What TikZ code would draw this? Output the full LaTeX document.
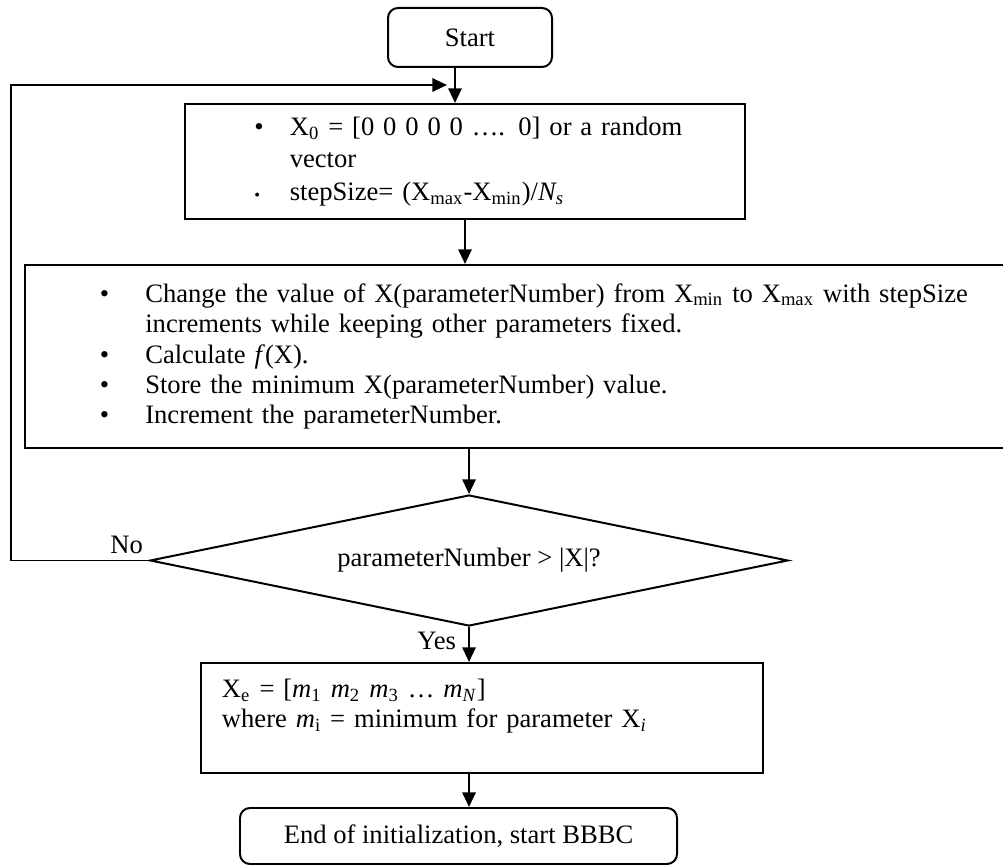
\documentclass[tikz,border=0pt]{standalone}
\usepackage{fontspec}
\setmainfont{Liberation Serif}
\usepackage{tikz}
\usetikzlibrary{shapes.geometric,arrows.meta,positioning}
\newcommand{\flowfont}{\fontsize{11.35pt}{13.9pt}\selectfont}
\newcommand{\bulbox}[1]{\makebox[#1][l]{\textbullet}}

\begin{document}
\begin{tikzpicture}[
    x=0.015cm, y=-0.015cm, line width=0.85pt,
    terminal/.style={rectangle, rounded corners=0.15cm, draw, align=center,
        font=\flowfont},
    procbox/.style={rectangle, draw, align=left, inner sep=0pt, font=\flowfont},
    decision/.style={diamond, draw, aspect=4.87, inner sep=0pt, font=\flowfont},
    lbl/.style={inner sep=0pt, font=\flowfont},
    arrow/.style={-{Triangle[length=0.22cm, width=0.2cm]}}
]
\useasboundingbox (0,0) rectangle (1003,866);

% Start and initial vector
\node[terminal, minimum width=2.46cm, minimum height=0.885cm] (start) at (470,37.5) {Start};
\node[procbox, minimum width=8.4cm, minimum height=1.725cm, text width=6.315cm,
    below=0.525cm of start, xshift=-0.075cm] (init)
    {\mbox{\bulbox{0.53cm}X\textsubscript{0} = [0 0 0 0 0 …. 0] or a random}\\
     \mbox{\hspace*{0.53cm}vector}\\
     \mbox{\makebox[0.53cm][l]{\scriptsize\textbullet}stepSize= (X\textsubscript{max}-X\textsubscript{min})/\textit{N\textsubscript{s}}}};

\coordinate (startout) at ([xshift=-0.225cm]start.south);
\coordinate (loopend) at (447,85);
\draw[arrow] (startout) -- (startout |- init.north);

% Sweep over one parameter
\node[procbox, font={\fontsize{11.35pt}{13pt}\selectfont}, minimum width=15.225cm,
    minimum height=2.745cm, text width=12.975cm,
    below=0.66cm of init, xshift=1.0125cm] (sweep)
    {\mbox{\bulbox{0.68cm}Change the value of X(parameterNumber) from X\textsubscript{min} to X\textsubscript{max} with stepSize}\\
     \mbox{\hspace*{0.68cm}increments while keeping other parameters fixed.}\\
     \mbox{\bulbox{0.68cm}Calculate \textit{f}(X).}\\
     \mbox{\bulbox{0.68cm}Store the minimum X(parameterNumber) value.}\\
     \mbox{\bulbox{0.68cm}Increment the parameterNumber.}};

\draw[arrow] (init.south) -- (init.south |- sweep.north);

% Test and loop back
\node[decision, minimum width=9.57cm, minimum height=1.965cm,
    below=0.675cm of sweep, xshift=-0.9525cm] (decide) {parameterNumber > |X|?};

\draw[arrow] (decide.north |- sweep.south) -- (decide.north);
\draw[arrow] (decide.west) -- ++(-138,0) |- (loopend);
\node[lbl, anchor=south east] (nolabel) at ([xshift=-0.075cm, yshift=0.09cm]decide.west) {No};

% Result and end
\node[procbox, font={\fontsize{11.35pt}{12.8pt}\selectfont}, minimum width=8.43cm,
    minimum height=1.65cm, text width=7.8cm,
    below=0.525cm of decide, xshift=0.195cm] (result)
    {\mbox{X\textsubscript{e} = [\textit{m}\textsubscript{1} \textit{m}\textsubscript{2} \textit{m}\textsubscript{3} … \textit{m}\textsubscript{\textit{N}}]}\\
     \mbox{where \textit{m}\textsubscript{i} = minimum for parameter X\textsubscript{\textit{i}}}\\
     \mbox{}};
\node[terminal, minimum width=6.555cm, minimum height=0.84cm,
    below=0.495cm of result, xshift=-0.3525cm] (finish) {End of initialization, start BBBC};

\draw[arrow] (decide.south) -- (decide.south |- result.north);
\node[lbl, below left=0.06cm and 0.18cm of decide.south] (yeslabel) {Yes};
\draw[arrow] (result.south -| decide.south) -- (finish.north -| decide.south);

\end{tikzpicture}
\end{document}
